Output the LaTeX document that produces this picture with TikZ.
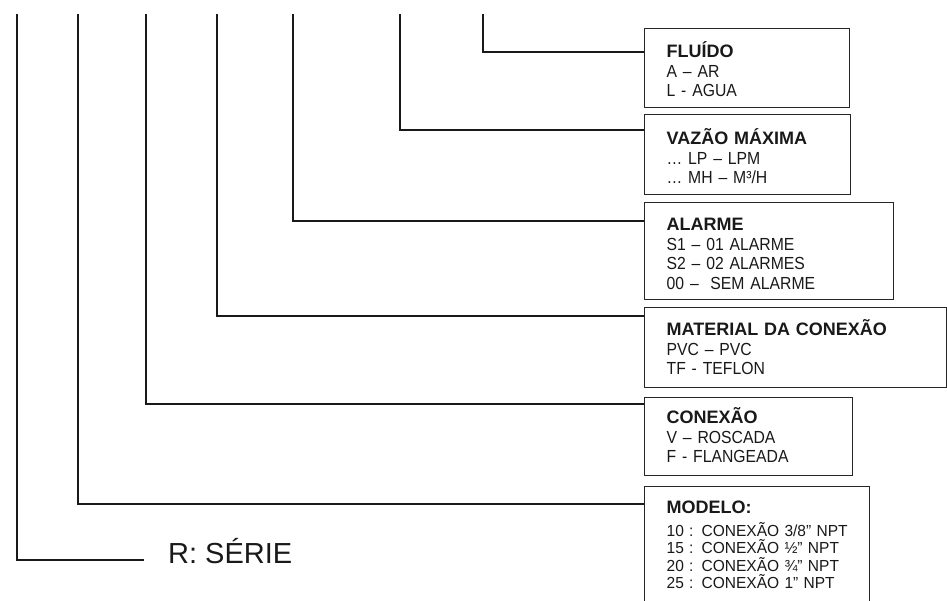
\documentclass[tikz,border=0pt]{standalone}
\usepackage{fontspec}
\setmainfont{Liberation Sans}
\newfontfamily\bodyfont{Liberation Sans}[FakeStretch=0.9, WordSpace=0.75]
\newfontfamily\modelfont{Liberation Sans}[FakeStretch=0.97, WordSpace=0.7]
\usetikzlibrary{calc}
\newcommand{\boxhead}[1]{{\rmfamily\bfseries\fontsize{18}{19}\selectfont #1}}

\begin{document}
\begin{tikzpicture}[
    x=1pt, y=-1pt,
    % one box per field of the order code, all hung off the same left edge;
    % text height = distance from box top to the heading baseline
    field/.style ={draw=black!85, line width=1.3pt, anchor=north west, align=left,
        inner xsep=22pt, inner ysep=0pt, text height=28pt, text=black!90,
        font=\bodyfont\fontsize{17.5}{19.5}\selectfont},
    lead/.style  ={draw=black!90, line width=1.6pt}
  ]
  \useasboundingbox (0,0) rectangle (947,600);

  % tops of the leader lines (under the code string)
  \coordinate (tser) at (17,14);
  \coordinate (tmod) at (78,14);
  \coordinate (tcon) at (146,14);
  \coordinate (tmat) at (217,14);
  \coordinate (talm) at (293,14);
  \coordinate (tvaz) at (400,14);
  \coordinate (tflu) at (483,14);

  \node[field, text width=161pt, text height=29pt, text depth=50pt] (fluido) at (644,28)
       {\boxhead{FLUÍDO}\\ A – AR\\ L - AGUA};
  \node[field, text width=162pt, text height=30pt, text depth=50pt] (vazao)  at (644,114)
       {\boxhead{VAZÃO MÁXIMA}\\ … LP – LPM\\ … MH – M³/H};
  \node[field, text width=205pt, text depth=69pt] (alarme) at (644,202)
       {\boxhead{ALARME}\\ S1 – 01 ALARME\\ S2 – 02 ALARMES\\ 00 – \ SEM ALARME};
  \node[field, text width=258pt, text depth=52pt] (material) at (644,307)
       {\boxhead{MATERIAL DA CONEXÃO}\\ PVC – PVC\\ TF - TEFLON};
  \node[field, text width=164pt, text height=26pt, text depth=52pt] (conexao) at (644,397)
       {\boxhead{CONEXÃO}\\ V – ROSCADA\\ F - FLANGEADA};
  % bottom edge of this one falls off the page, as in the scan
  \node[field, text width=181pt, text height=27pt, text depth=91pt,
        font=\modelfont\fontsize{16}{17.5}\selectfont] (modelo) at (644,486)
       {\boxhead{MODELO:}\\[5pt] 10 : CONEXÃO 3/8” NPT\\ 15 : CONEXÃO ½” NPT\\
        20 : CONEXÃO ¾” NPT\\ 25 : CONEXÃO 1” NPT};

  \node[font=\fontsize{29}{32}\selectfont, text=black!90, anchor=base west, inner sep=0pt]
       (serie) at (168,563) {R: SÉRIE};

  \draw[lead] (tflu) |- ($(fluido.north west)+(0,24)$);
  \draw[lead] (tvaz) |- ($(vazao.north west)+(0,16)$);
  \draw[lead] (talm) |- ($(alarme.north west)+(0,19)$);
  \draw[lead] (tmat) |- ($(material.north west)+(0,9)$);
  \draw[lead] (tcon) |- ($(conexao.north west)+(0,7)$);
  \draw[lead] (tmod) |- ($(modelo.north west)+(0,18)$);
  \draw[lead] (tser) |- ($(serie.base west)+(-24,-3)$);

\end{tikzpicture}
\end{document}
